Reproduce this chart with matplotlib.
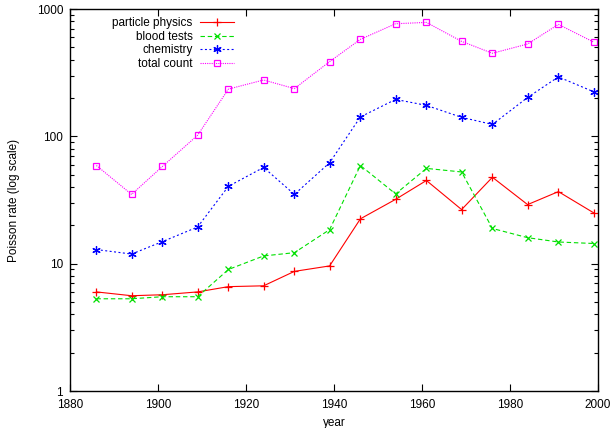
import matplotlib
matplotlib.use("Agg")
import matplotlib.pyplot as plt
from matplotlib.ticker import FixedLocator, LogLocator, NullFormatter

# values
years = [1886, 1894, 1901, 1909, 1916, 1924, 1931, 1939,
         1946, 1954, 1961, 1969, 1976, 1984, 1991, 1999]
particle_physics = [6.0, 5.6, 5.7, 6.0, 6.6, 6.7, 8.7, 9.6,
                    22.5, 32, 45, 26.6, 47.7, 29.1, 36.8, 25.1]
blood_tests = [5.3, 5.3, 5.5, 5.5, 9.0, 11.5, 12.2, 18.5,
               59, 35.3, 56, 52.5, 18.9, 16.0, 14.8, 14.4]
chemistry = [12.9, 11.9, 14.9, 19.4, 40.5, 57, 35, 62,
             142, 195, 175, 141, 124, 202, 293, 224]
total_count = [59, 35, 58, 102, 235, 277, 237, 386,
               578, 766, 785, 557, 449, 531, 757, 550]

x_ticks = [1880, 1900, 1920, 1940, 1960, 1980, 2000]
y_ticks = [1, 10, 100, 1000]
y_tick_labels = ["1", "10", "100", "1000"]

plt.rcParams['font.family'] = ['Liberation Sans', 'DejaVu Sans']
plt.rcParams['font.size'] = 8.5

fig = plt.figure(figsize=(6.13, 4.28), dpi=100)
ax = fig.add_axes([70 / 613, 1 - 391 / 428, 528 / 613, 382 / 428])

lw = 0.8
ax.plot(years, particle_physics, color='#ff0000', lw=lw, ls='-',
        marker='+', ms=6, mew=0.9, label='particle physics')
ax.plot(years, blood_tests, color='#00e000', lw=lw, ls=(0, (4, 2.5)),
        marker='x', ms=5, mew=0.9, label='blood tests')
ax.plot(years, chemistry, color='#0000ff', lw=lw, ls=(0, (1.8, 2.2)),
        marker=(6, 2, 0), ms=6, mew=0.9, label='chemistry')
ax.plot(years, total_count, color='#ff00ff', lw=lw, ls=(0, (1, 1)),
        marker='s', ms=5, mew=0.9, mfc='none', label='total count')

ax.set_yscale('log')
ax.set_xlim(1880, 2000)
ax.set_ylim(1, 1000)
ax.xaxis.set_major_locator(FixedLocator(x_ticks))
ax.set_yticks(y_ticks)
ax.set_yticklabels(y_tick_labels)
ax.yaxis.set_minor_locator(LogLocator(base=10, subs=range(2, 10)))
ax.yaxis.set_minor_formatter(NullFormatter())

ax.tick_params(which='both', direction='in', top=True, right=True, width=0.8)
ax.tick_params(which='major', length=5)
ax.tick_params(axis='x', which='major', pad=6)
ax.tick_params(axis='y', which='major', pad=5)
ax.tick_params(which='minor', length=3)
for s in ax.spines.values():
    s.set_linewidth(1.0)

ax.set_xlabel('year', labelpad=4)
ax.set_ylabel('Poisson rate (log scale)', labelpad=12)

leg = ax.legend(loc='upper right', bbox_to_anchor=((234 - 70) / 528, 0.978),
                markerfirst=False, frameon=False, borderpad=0, borderaxespad=0,
                handlelength=2.9, handletextpad=0.6, labelspacing=0.12,
                fontsize=8.5)

fig.savefig('out.png', dpi=100)
